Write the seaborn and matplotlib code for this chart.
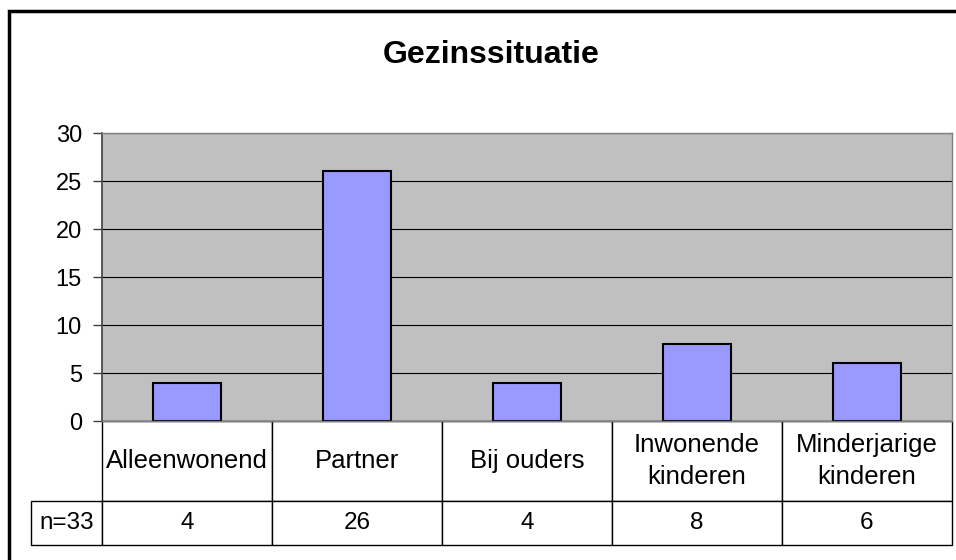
import matplotlib
matplotlib.use("Agg")
import matplotlib.pyplot as plt
import seaborn as sns
from matplotlib.patches import Rectangle

categories = ['Alleenwonend', 'Partner', 'Bij ouders', 'Inwonende\nkinderen', 'Minderjarige\nkinderen']
counts = [4, 26, 4, 8, 6]
n_label = 'n=33'
yticks = [0, 5, 10, 15, 20, 25, 30]

sns.set_style("white")
plt.rcParams['font.family'] = ['Liberation Sans', 'DejaVu Sans']
plt.rcParams['text.color'] = 'black'
plt.rcParams['ytick.labelcolor'] = 'black'

fig = plt.figure(figsize=(9.56, 5.6), dpi=100)

# outer chart border (right and bottom fall outside the picture)
fig.patches.append(Rectangle((9 / 956, -0.1), 1.2, 1 - 11 / 560 + 0.1, transform=fig.transFigure,
                             fill=False, edgecolor='black', linewidth=2.5))

fig.text(491.5 / 956, 1 - 63 / 560, 'Gezinssituatie', ha='center', va='baseline',
         fontsize=23, fontweight='bold', color='black')

ax = fig.add_axes([102 / 956, 1 - 421 / 560, 850 / 956, 288 / 560])
ax.set_facecolor('#C0C0C0')

sns.barplot(x=categories, y=counts, color='#9999FF', saturation=1, edgecolor='black',
            linewidth=1.5, width=0.4, ax=ax)

ax.set_xlim(-0.5, len(categories) - 0.5)
ax.set_ylim(0, 30)
ax.set_yticks(yticks)
ax.yaxis.grid(True, color='black', linewidth=0.8)
ax.set_axisbelow(True)
ax.set_xlabel('')
ax.set_ylabel('')
ax.set_xticks([])
ax.tick_params(axis='y', direction='out', length=6.5, width=1, color='#404040',
               labelsize=17, labelcolor='black', pad=8, left=True)
for side in ['top', 'right', 'bottom']:
    ax.spines[side].set_color('#808080')
    ax.spines[side].set_linewidth(1)
ax.spines['left'].set_color('#404040')
ax.spines['left'].set_linewidth(1.2)

# data table under the plot
cell_text = [[''] + categories, [n_label] + [str(v) for v in counts]]
tbl = ax.table(cellText=cell_text, cellLoc='center',
               bbox=[-71 / 850, -124 / 288, 921 / 850, 124 / 288])
tbl.auto_set_font_size(False)
for (r, c), cell in tbl.get_celld().items():
    cell.set_width(71 if c == 0 else 170)
    cell.set_height(80 if r == 0 else 44)
    cell.set_edgecolor('black')
    cell.set_linewidth(1)
    txt = cell.get_text()
    txt.set_fontsize(18.5 if r == 0 else 17.5)
    txt.set_color('black')
    txt.set_linespacing(1.45)
    if r == 0 and c == 0:
        cell.visible_edges = 'open'

fig.savefig('out.png', dpi=100)
